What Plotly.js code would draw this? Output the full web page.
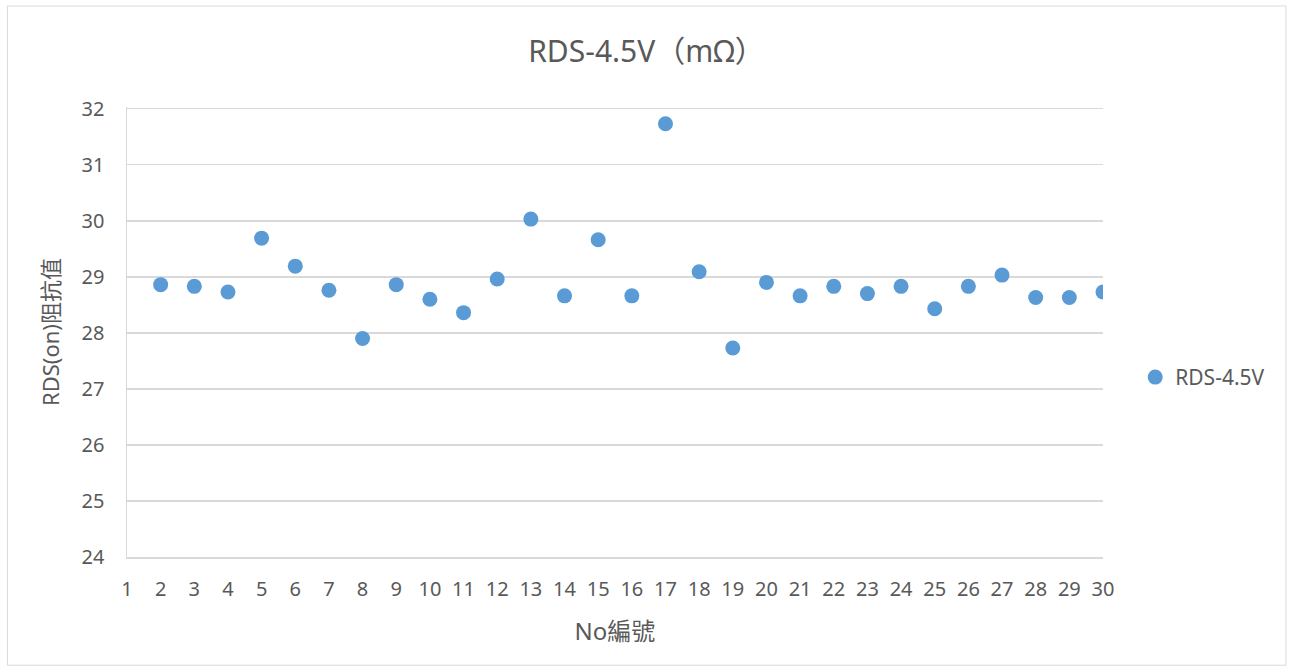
<!DOCTYPE html>
<html>
<head>
<meta charset="utf-8">
<script src="https://cdn.plot.ly/plotly-3.0.1.min.js"></script>
<style>html,body{margin:0;padding:0;background:#fff;}#chart{width:1293px;height:672px;}</style>
</head>
<body>
<div id="chart"></div>
<script>
const sampleNo = [2,3,4,5,6,7,8,9,10,11,12,13,14,15,16,17,18,19,20,21,22,23,24,25,26,27,28,29,30];
const rdsValues = [28.86,28.83,28.73,29.69,29.19,28.76,27.90,28.86,28.60,28.36,28.96,30.03,28.66,29.66,28.66,31.73,29.09,27.73,28.90,28.66,28.83,28.70,28.83,28.43,28.83,29.03,28.63,28.63,28.73];
const xTicks = [1,2,3,4,5,6,7,8,9,10,11,12,13,14,15,16,17,18,19,20,21,22,23,24,25,26,27,28,29,30];
const yTicks = [24,25,26,27,28,29,30,31,32];
const seriesName = 'RDS-4.5V';
const FONT = 'Noto Sans, Noto Sans CJK TC, sans-serif';

const trace = {
  x: sampleNo, y: rdsValues, type: 'scatter', mode: 'markers', name: seriesName,
  marker: {color: '#5B9BD5', size: 15, line: {width: 0}}
};
const layout = {
  width: 1293, height: 672,
  margin: {l: 127, r: 190, t: 107, b: 115},
  paper_bgcolor: '#fff', plot_bgcolor: '#fff',
  font: {family: FONT, color: '#595959'},
  title: {text: 'RDS-4.5V（mΩ）', font: {size: 30, color: '#595959', family: FONT}, x: 0.5, xref: 'container', xanchor: 'center', y: 0.924, yanchor: 'middle'},
  xaxis: {
    range: [1, 30], tickvals: xTicks, ticktext: xTicks.map(String),
    showgrid: false, zeroline: false, showline: true, linecolor: '#d9d9d9', linewidth: 1.5,
    ticks: '', ticklabelstandoff: 13, tickfont: {size: 20, color: '#595959'},
    title: {text: 'No編號', font: {size: 24, color: '#595959'}, standoff: 22}
  },
  yaxis: {
    range: [24, 32.03], tickvals: yTicks, ticktext: yTicks.map(String),
    showgrid: true, gridcolor: '#d9d9d9', gridwidth: 1.5, zeroline: false,
    showline: true, linecolor: '#d9d9d9', linewidth: 1.5,
    ticks: '', ticklabelstandoff: 17, tickfont: {size: 20, color: '#595959'},
    title: {text: 'RDS(on)阻抗值', font: {size: 22, color: '#595959'}, standoff: 16}
  },
  showlegend: true,
  legend: {x: 1.033, xanchor: 'left', y: 0.399, yanchor: 'middle', font: {size: 21, color: '#595959'}, itemwidth: 30, bgcolor: 'rgba(0,0,0,0)'},
  shapes: [{type: 'rect', xref: 'paper', yref: 'paper', x0: -0.1225, x1: 1.1875, y0: -0.2405, y1: 1.2245, line: {color: '#d9d9d9', width: 1}, fillcolor: 'rgba(0,0,0,0)', layer: 'below'}]
};
Plotly.newPlot('chart', [trace], layout, {displayModeBar: false, staticPlot: true});
</script>
</body>
</html>
